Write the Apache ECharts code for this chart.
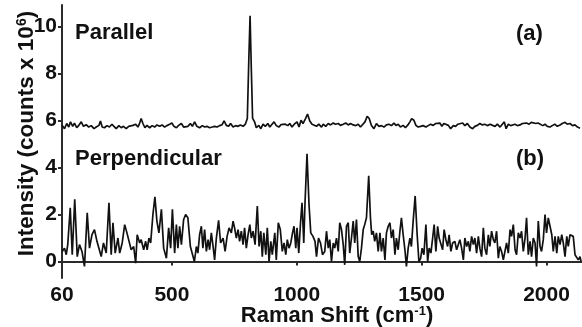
<!DOCTYPE html>
<html>
<head>
<meta charset="utf-8">
<script src="https://cdn.jsdelivr.net/npm/echarts@6/dist/echarts.min.js"></script>
<style>
html,body{margin:0;padding:0;background:#fff;}
#chart{width:582px;height:327px;}
</style>
</head>
<body>
<div id="chart"></div>
<script>
var xTicks = [60, 500, 1000, 1500, 2000];
var yTicks = [0, 2, 4, 6, 8, 10];

var parallelX = [61,70,79,87,94,103,110,119,127,137,146,157,167,177,188,197,208,214,221,230,240,250,260,268,277,288,297,306,317,327,335,344,355,364,371,377,384,392,400,411,421,431,440,451,461,471,480,491,500,508,518,527,538,547,555,564,574,582,591,600,611,622,631,640,651,662,671,681,691,701,709,718,727,735,745,755,765,774,785,794,802,808,813,818,823,831,838,848,856,865,874,884,892,901,909,918,928,937,945,954,964,972,981,990,1001,1009,1017,1025,1035,1043,1052,1061,1069,1079,1088,1099,1106,1116,1126,1135,1146,1155,1166,1175,1186,1196,1206,1215,1226,1236,1246,1255,1263,1273,1282,1290,1299,1309,1319,1329,1339,1349,1359,1369,1379,1389,1397,1406,1415,1426,1435,1445,1453,1460,1469,1477,1486,1496,1506,1517,1526,1536,1546,1556,1564,1573,1581,1589,1597,1607,1616,1627,1636,1645,1653,1664,1673,1683,1693,1704,1713,1723,1733,1743,1753,1763,1774,1784,1794,1803,1814,1823,1831,1838,1847,1856,1864,1874,1883,1894,1903,1911,1920,1930,1939,1947,1957,1966,1974,1985,1994,2003,2014,2023,2033,2043,2054,2063,2074,2083,2094,2104,2114,2124,2134];
var parallelY = [5.79,5.65,5.87,5.72,5.94,5.75,5.89,5.69,5.79,5.94,5.75,5.82,5.72,5.78,5.65,5.72,5.79,5.98,5.72,5.69,5.78,5.72,5.84,5.75,5.65,5.78,5.69,5.75,5.65,5.75,5.69,5.79,5.84,5.72,5.89,6.08,5.87,5.69,5.79,5.69,5.78,5.72,5.81,5.75,5.81,5.72,5.78,5.84,5.89,5.75,5.69,5.79,5.87,5.72,5.65,5.75,5.87,5.75,5.94,5.75,5.69,5.78,5.72,5.75,5.69,5.72,5.75,5.72,5.78,5.82,5.98,5.79,5.75,5.87,5.72,5.78,5.75,5.81,5.75,5.84,6.08,8.6,10.45,8.2,6.1,5.94,5.69,5.79,5.65,5.84,5.75,5.87,5.72,5.84,5.94,5.78,5.72,5.82,5.75,5.84,5.78,5.87,5.72,5.84,5.94,5.72,6.01,5.87,6.08,6.27,5.98,5.84,5.89,5.75,5.84,5.72,5.84,5.75,5.87,5.81,5.89,5.84,5.87,5.79,5.84,5.89,5.81,5.87,5.81,5.78,5.84,5.72,5.65,5.94,6.18,6.08,5.79,5.65,5.87,5.75,5.78,5.72,5.81,5.84,5.78,5.89,5.79,5.84,5.72,5.79,5.69,5.81,5.94,6.08,6.01,5.79,5.72,5.75,5.78,5.72,5.78,5.84,5.79,5.87,5.81,5.89,5.75,5.87,5.95,5.79,5.65,5.78,5.75,5.84,5.79,5.89,5.78,5.87,5.72,5.65,5.75,5.79,5.87,5.81,5.84,5.78,5.84,5.79,5.75,5.84,5.72,5.84,5.94,5.65,5.84,5.78,5.81,5.84,5.78,5.81,5.87,5.81,5.89,5.84,5.92,5.84,5.87,5.89,5.84,5.78,5.84,5.75,5.72,5.78,5.84,5.75,5.81,5.87,5.92,5.84,5.87,5.78,5.81,5.72,5.67];

var perpX = [61,70,77,83,93,101,111,121,130,140,150,161,170,180,190,200,208,217,226,237,248,257,264,273,284,291,301,311,320,328,337,347,355,361,371,377,387,395,401,408,415,424,432,440,448,458,467,478,487,495,502,511,518,524,531,538,547,555,564,574,582,590,598,604,611,618,624,631,638,645,651,658,665,671,678,687,695,705,713,721,729,738,745,751,758,765,771,778,785,791,798,805,812,818,825,833,842,849,856,862,868,876,882,889,896,902,912,918,926,934,942,949,956,962,969,976,983,989,996,1001,1008,1015,1021,1028,1033,1041,1049,1056,1065,1073,1079,1087,1095,1103,1112,1119,1126,1132,1139,1146,1152,1159,1166,1172,1179,1186,1192,1199,1206,1212,1219,1226,1232,1239,1246,1252,1259,1266,1272,1279,1288,1295,1300,1306,1312,1319,1326,1333,1339,1346,1353,1359,1366,1373,1379,1386,1393,1399,1406,1413,1419,1426,1433,1439,1446,1453,1459,1466,1474,1482,1489,1496,1502,1509,1517,1524,1530,1537,1544,1550,1557,1564,1570,1577,1584,1590,1597,1604,1610,1617,1624,1633,1640,1646,1653,1660,1667,1673,1680,1687,1693,1700,1707,1713,1720,1727,1733,1740,1747,1753,1760,1767,1773,1780,1787,1793,1800,1807,1813,1820,1827,1834,1840,1847,1854,1860,1867,1874,1880,1887,1894,1900,1907,1914,1920,1927,1934,1940,1947,1954,1960,1967,1974,1980,1987,1994,2000,2007,2014,2021,2027,2034,2041,2047,2054,2061,2067,2074,2081,2087,2094,2101,2107,2114,2121,2127,2134,2138];
var perpY = [0.43,0.57,0.29,0.72,2.29,0.29,2.65,0.21,0.72,0.43,-0.21,2.07,0.57,1.14,1.36,0.86,0.93,0.21,0.79,0.36,2.5,0.29,1.65,0.36,1.0,0.36,0.79,1.57,1.22,1.29,0.5,0.64,-0.07,1.14,0.79,0.93,0.5,0.86,0.5,1.0,0.79,2.0,2.75,1.72,1.22,2.22,0.57,0.14,1.43,0.57,2.22,0.36,1.57,0.57,1.5,0.72,1.79,2.0,1.86,0.64,0.57,0.0,0.64,0.36,1.14,1.5,0.57,1.36,0.43,0.93,0.5,1.22,0.64,0.07,1.0,1.75,0.79,1.0,0.43,1.07,1.43,1.22,1.72,1.43,1.0,1.36,0.86,1.29,0.72,1.43,0.57,1.14,1.57,1.0,1.29,0.72,2.36,0.64,1.29,0.21,1.22,0.29,1.43,0.0,0.86,0.29,1.22,0.07,1.65,1.36,0.43,0.79,0.29,0.93,0.57,0.79,1.22,1.5,0.57,1.43,0.36,1.65,2.5,0.79,2.5,4.58,2.43,1.22,1.07,0.86,0.21,1.0,0.79,0.29,0.43,1.29,0.57,0.93,0.0,0.79,0.57,1.0,0.43,1.65,1.36,0.72,-0.14,1.5,1.65,0.36,1.0,1.72,0.79,1.79,0.21,0.0,0.57,1.36,1.57,1.86,3.65,1.86,1.14,1.29,0.86,1.22,0.43,1.22,0.43,1.0,0.07,1.22,1.5,1.65,1.0,1.36,0.29,1.0,0.5,1.29,1.86,1.14,0.5,-0.21,0.57,1.0,0.64,1.72,2.79,1.14,0.0,0.14,0.57,0.29,1.57,0.0,0.57,0.36,1.0,1.57,0.43,1.5,1.0,1.07,0.5,1.36,0.93,0.64,1.14,0.43,0.79,0.86,0.5,0.43,0.93,0.57,0.07,1.0,0.64,0.86,0.43,1.07,0.72,1.0,0.36,1.07,0.57,0.21,1.43,0.57,0.29,1.14,0.64,1.29,0.93,0.79,1.29,0.14,0.64,0.43,0.07,0.0,0.79,0.36,1.36,1.07,1.57,0.5,0.29,1.22,1.0,1.29,0.43,1.0,1.86,0.29,0.86,0.21,1.0,0.79,-0.21,1.72,0.64,0.43,0.93,2.0,1.22,1.86,1.5,1.14,0.43,1.07,0.36,1.07,0.72,1.14,0.79,0.21,1.07,0.64,1.14,1.22,1.07,0.29,0.21,0.07,0.21,0.0];

var labels = [
  {text: 'Parallel', x: 75, y: 32},
  {text: 'Perpendicular', x: 75, y: 158},
  {text: '(a)', x: 516, y: 33},
  {text: '(b)', x: 516, y: 158}
];

function zip(xs, ys) { return xs.map(function (x, i) { return [x, ys[i]]; }); }

var FONT = '"Liberation Sans", Arial, sans-serif';
var AX = '#2b2b2b';
var chart = echarts.init(document.getElementById('chart'));
chart.setOption({
  animation: false,
  backgroundColor: '#fff',
  grid: {left: 62, right: 0, top: 5, bottom: 49, outerBoundsMode: 'none', containLabel: false},
  xAxis: {
    type: 'value', min: 60, max: 2142,
    name: '{a|Raman Shift (cm}{s|-1}{a|)}',
    nameLocation: 'middle', nameGap: 27, nameMoveOverlap: false,
    nameTextStyle: {
      padding: [0, 0, 0, 30],
      rich: {
        a: {fontFamily: FONT, fontWeight: 'bold', fontSize: 22, color: '#111'},
        s: {fontFamily: FONT, fontWeight: 'bold', fontSize: 13, color: '#111', verticalAlign: 'top', padding: [0, 0, 8, 0]}
      }
    },
    axisLine: {lineStyle: {color: AX, width: 2}},
    axisTick: {show: true, length: 4, inside: false, customValues: xTicks, lineStyle: {color: AX, width: 2}},
    axisLabel: {customValues: xTicks, margin: 7, fontFamily: FONT, fontWeight: 'bold', fontSize: 21, color: '#111',
      formatter: function (v) { return String(v); }},
    splitLine: {show: false}
  },
  yAxis: {
    type: 'value', min: -0.70, max: 10.91,
    name: '{a|Intensity (counts x 10}{s|6}{a|)}',
    nameLocation: 'middle', nameGap: 24, nameRotate: 90, nameMoveOverlap: false,
    nameTextStyle: {
      padding: [0, 0, 0, 16],
      rich: {
        a: {fontFamily: FONT, fontWeight: 'bold', fontSize: 22.5, color: '#111'},
        s: {fontFamily: FONT, fontWeight: 'bold', fontSize: 14, color: '#111', verticalAlign: 'top', padding: [0, 0, 8, 0]}
      }
    },
    axisLine: {show: true, lineStyle: {color: AX, width: 2}},
    axisTick: {show: true, length: 4, inside: false, customValues: yTicks, lineStyle: {color: AX, width: 2}},
    axisLabel: {customValues: yTicks, margin: 5, fontFamily: FONT, fontWeight: 'bold', fontSize: 21, color: '#111',
      formatter: function (v) { return String(v); }},
    splitLine: {show: false}
  },
  graphic: labels.map(function (l) {
    return {type: 'text', left: l.x, top: l.y - 10, style: {text: l.text, font: 'bold 22px ' + FONT, fill: '#111'}};
  }),
  series: [
    {type: 'line', data: zip(parallelX, parallelY), showSymbol: false, lineStyle: {color: '#111', width: 1.7}},
    {type: 'line', data: zip(perpX, perpY), showSymbol: false, lineStyle: {color: '#111', width: 1.7}}
  ]
});
</script>
</body>
</html>
